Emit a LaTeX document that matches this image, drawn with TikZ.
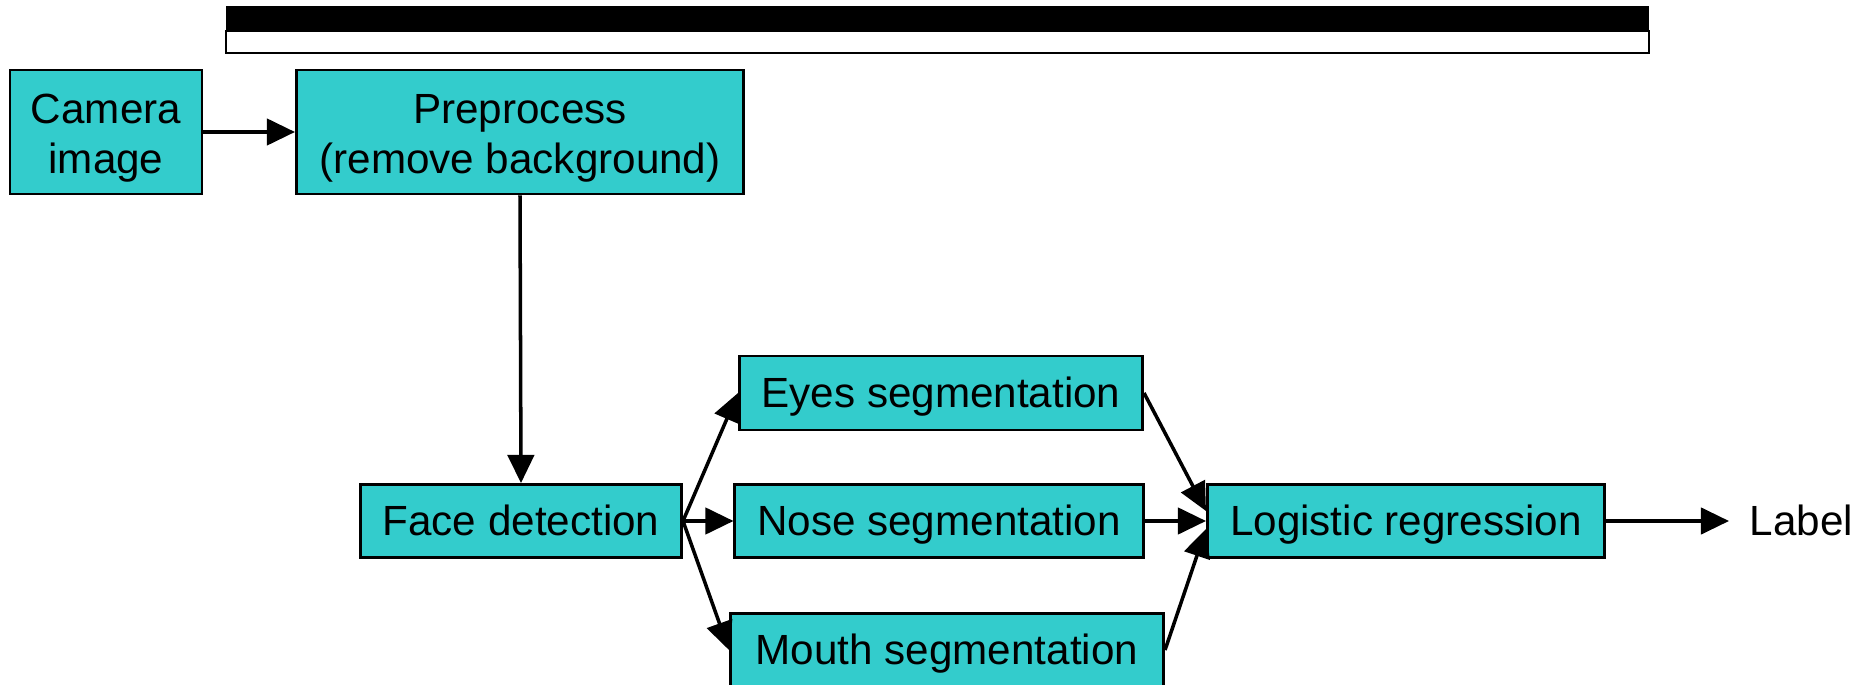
\documentclass[tikz,border=0pt]{standalone}
\usepackage{fontspec}
\setmainfont{Liberation Sans}
\usepackage{xcolor}
\usetikzlibrary{arrows.meta, positioning, calc}
\definecolor{boxcyan}{RGB}{51,204,204}

\begin{document}
\begin{tikzpicture}[
    x=0.01cm, y=-0.01cm,
    box/.style={rectangle, draw, fill=boxcyan, line width=0.8pt, align=center, inner sep=0pt, text height=10.5pt, text depth=2.5pt, font=\fontsize{12}{14.2}\selectfont},
    twoline/.style={box, text height=26pt},
    arrow/.style={-{Triangle[length=8pt, width=7.5pt]}, line width=1pt}
]
\useasboundingbox (0,0) rectangle (1863,685);
\clip (0,0) rectangle (1863,685);

% Title bar
\fill[black] (226,6) rectangle (1649,31);
\draw[line width=0.6pt, fill=white] (226,31) rectangle (1649,53);

% Input
\node[twoline, minimum width=1.92cm, minimum height=1.24cm] (camera) at (106,132) {Camera\\image};
\node[twoline, minimum width=4.47cm, minimum height=1.24cm] (prep) at (520,132) {Preprocess\\(remove background)};

% Detection
\node[box, minimum width=3.21cm, minimum height=0.73cm] (face) at (521,521) {Face detection};

% Segmentation
\node[box, minimum width=4.03cm, minimum height=0.74cm] (eyes) at (941,393) {Eyes segmentation};
\node[box, minimum width=4.08cm, minimum height=0.73cm] (nose) at (939,521) {Nose segmentation};
\node[box, minimum width=4.33cm, minimum height=0.73cm] (mouth) at (947,650) {Mouth segmentation};

% Classifier
\node[box, minimum width=3.97cm, minimum height=0.73cm] (logit) at (1406,521) {Logistic regression};
\node[anchor=west, inner xsep=5.7pt, inner ysep=0pt, text height=10.5pt, text depth=2.5pt, font=\fontsize{12}{14.2}\selectfont] (label) at (1729,521) {Label};

% Arrows
\draw[arrow] (camera) -- (prep);
\draw[arrow] (prep.south) -- (face.north);
\draw[arrow] (face.east) -- (eyes.west);
\draw[arrow] (face.east) -- (nose.west);
\draw[arrow] (face.east) -- (mouth.west);
\draw[arrow] (eyes.east) -- ($(logit.west)+(0,-10)$);
\draw[arrow] (nose.east) -- (logit.west);
\draw[arrow] (mouth.east) -- ($(logit.west)+(0,8)$);
\draw[arrow] (logit.east) -- (label.west);

\end{tikzpicture}
\end{document}
